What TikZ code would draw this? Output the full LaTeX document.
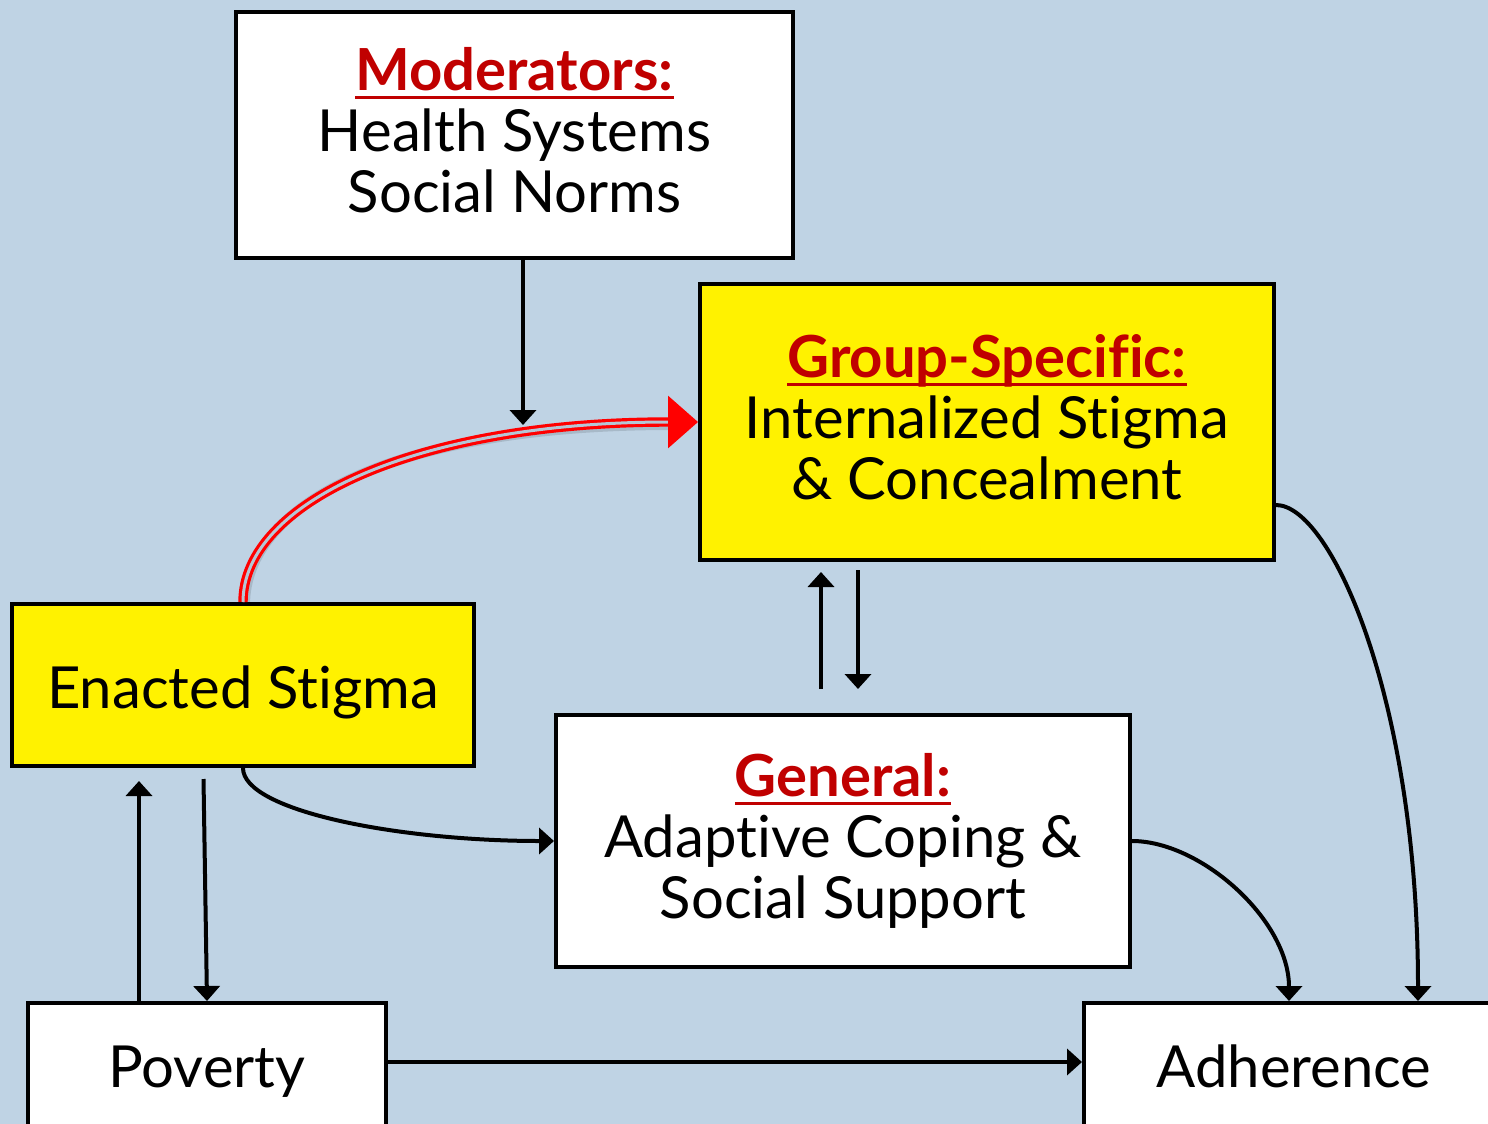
\documentclass[tikz,border=0pt]{standalone}
\usepackage{fontspec}
\setmainfont[Ligatures=NoCommon]{Lato}
\usepackage{xcolor}
\usetikzlibrary{arrows.meta}

\definecolor{slideblue}{RGB}{191,211,228}
\definecolor{headred}{RGB}{192,0,0}
\newsavebox{\headbox}
\newcommand{\boxhead}[1]{{\bfseries\color{headred}\sbox{\headbox}{#1}%
  \rlap{\rule[-4pt]{\wd\headbox}{1.4pt}}\usebox{\headbox}}}

\begin{document}
\begin{tikzpicture}[x=0.5pt, y=-0.5pt,
    box/.style={draw=black, line width=2pt, inner sep=0pt, align=center,
      font=\fontsize{29}{30.5}\selectfont},
    whitebox/.style={box, fill=white},
    yellowbox/.style={box, fill=yellow},
    arr/.style={line width=2pt, -{Triangle[length=7.5pt, width=13pt]}},
    redarr/.style={draw=red, line width=1.6pt, double=slideblue!85!gray,
      double distance=1.5pt, -{Triangle[length=15pt, width=26pt, fill=red]}}]
  \useasboundingbox (0,0) rectangle (1488,1124);
  \fill[slideblue] (0,0) rectangle (1488,1124);
  \clip (0,0) rectangle (1488,1124);

  % boxes
  \node[whitebox, minimum width=278.5pt, minimum height=123pt, text depth=5pt]
    (moderators) at (514.5,135)
    {\boxhead{Moderators:}\\Health Systems\\Social Norms};
  \node[yellowbox, minimum width=287pt, minimum height=138pt, text depth=5pt]
    (group) at (987,422)
    {\boxhead{Group-Specific:}\\Internalized Stigma\\\& Concealment};
  \node[yellowbox, minimum width=231pt, minimum height=81pt,
    text height=23pt, text depth=0pt] (enacted) at (243,685)
    {Enacted Stigma};
  \node[whitebox, minimum width=287pt, minimum height=126pt] (general) at (843,841)
    {\boxhead{General:}\\Adaptive Coping \&\\Social Support};
  \node[whitebox, minimum width=179pt, minimum height=70pt,
    text height=21.75pt, text depth=7.25pt] (poverty) at (207,1073)
    {Poverty};
  \node[whitebox, minimum width=210pt, minimum height=70pt,
    text height=21.75pt, text depth=7.25pt] (adherence) at (1294,1073)
    {Adherence};

  % moderators
  \coordinate (modend) at (523,425);
  \draw[arr] (moderators.south -| modend) -- (modend);

  % enacted -> group-specific
  \draw[black, opacity=0.12, line width=5pt, transform canvas={xshift=1pt, yshift=-1.5pt}]
    (enacted.north) .. controls +(0,-100) and +(-280,0) .. ([xshift=-14pt]group.west);
  \draw[redarr] (enacted.north) .. controls +(0,-100) and +(-280,0) .. (group.west);

  % group-specific <-> general
  \coordinate (upfoot) at ([xshift=-11pt, yshift=12pt]general.north);
  \coordinate (downfoot) at ([xshift=7.5pt, yshift=12pt]general.north);
  \draw[arr, shorten >=5pt] (upfoot) -- (upfoot |- group.south);
  \draw[arr, shorten <=4pt] (downfoot |- group.south) -- (downfoot);

  % enacted <-> poverty
  \coordinate (povup) at ([xshift=-34pt]poverty.north);
  \draw[arr, shorten >=6.5pt] (povup) -- (povup |- enacted.south);
  \draw[arr] ([xshift=-19.75pt, yshift=-5.5pt]enacted.south) -- (poverty.north);

  \draw[arr] (enacted.south) .. controls +(0,43) and +(-155,0) .. (general.west);
  \draw[arr] ([yshift=5.5pt]poverty.east) -- ([yshift=5.5pt]adherence.west);

  % into adherence
  \draw[arr] (general.east) .. controls +(69,0) and +(0,-81) .. ([xshift=-2.5pt]adherence.north);
  \draw[arr] ([yshift=-41.5pt]group.east) .. controls +(55,0) and +(0,-301) .. ([xshift=62pt]adherence.north);
\end{tikzpicture}
\end{document}
